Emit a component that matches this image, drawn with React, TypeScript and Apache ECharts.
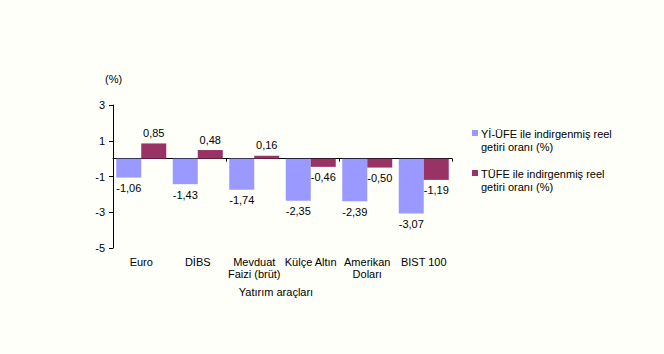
import React, { useEffect, useRef } from "react";
import * as echarts from "echarts";

const categories = ["Euro", "DİBS", "Mevduat\nFaizi (brüt)", "Külçe Altın", "Amerikan\nDoları", "BIST 100"];
const yiUfe = [-1.06, -1.43, -1.74, -2.35, -2.39, -3.07];
const tufe = [0.85, 0.48, 0.16, -0.46, -0.5, -1.19];
const seriesNames = ["Yİ-ÜFE ile indirgenmiş reel\ngetiri oranı (%)", "TÜFE ile indirgenmiş reel\ngetiri oranı (%)"];
const colors = ["#9999FF", "#993366"];

const FONT = "Liberation Sans, Arial, sans-serif";

const fmt = (v: number) => v.toFixed(2).replace(".", ",");

const toData = (arr: number[]) =>
  arr.map((v) => ({
    value: v,
    label: { position: v >= 0 ? "top" : "bottom" },
  }));

export default function App() {
  const ref = useRef<HTMLDivElement>(null);
  useEffect(() => {
    if (!ref.current) return;
    const chart = echarts.init(ref.current, undefined, { renderer: "svg" });
    const labelStyle = {
      show: true,
      color: "#000",
      fontFamily: FONT,
      fontSize: 11,
      distance: 5,
      formatter: (p: any) => fmt(p.value),
    };
    chart.setOption({
      animation: false,
      backgroundColor: "#FFFFF9",
      grid: { left: 113, right: 212, top: 105, bottom: 106, containLabel: false },
      xAxis: [
        {
          type: "category",
          data: categories,
          axisLine: { onZero: true, lineStyle: { color: "#000", width: 1 } },
          axisTick: { show: true, length: 3, lineStyle: { color: "#000" } },
          axisLabel: { show: false },
        },
        {
          type: "category",
          data: categories,
          position: "bottom",
          axisLine: { show: false, onZero: false },
          axisTick: { show: false },
          axisLabel: {
            show: true,
            color: "#000",
            fontFamily: FONT,
            fontSize: 11,
            margin: 8,
            lineHeight: 12,
            interval: 0,
          },
        },
      ],
      yAxis: {
        type: "value",
        min: -5,
        max: 3,
        interval: 2,
        axisLine: { show: true, lineStyle: { color: "#000" } },
        axisTick: { show: true, length: 4, lineStyle: { color: "#000" } },
        axisLabel: { color: "#000", fontFamily: FONT, fontSize: 11, margin: 8 },
        splitLine: { show: false },
      },
      series: [
        {
          name: seriesNames[0],
          type: "bar",
          xAxisIndex: 0,
          data: toData(yiUfe),
          barWidth: 25,
          barGap: "0%",
          itemStyle: { color: colors[0] },
          label: labelStyle,
        },
        {
          name: seriesNames[1],
          type: "bar",
          xAxisIndex: 0,
          data: toData(tufe),
          barWidth: 25,
          barGap: "0%",
          itemStyle: { color: colors[1] },
          label: labelStyle,
        },
      ],
      graphic: [
        {
          type: "text",
          left: 105,
          top: 73,
          style: { text: "(%)", fill: "#000", font: `11px ${FONT}` },
        },
        {
          type: "text",
          x: 276,
          y: 292,
          style: {
            text: "Yatırım araçları",
            fill: "#000",
            font: `11px ${FONT}`,
            align: "center",
            verticalAlign: "middle",
          },
        },
        { type: "rect", shape: { x: 472, y: 130, width: 6, height: 6 }, style: { fill: colors[0] } },
        {
          type: "text",
          x: 481,
          y: 127,
          style: { text: seriesNames[0], fill: "#000", font: `11px ${FONT}`, lineHeight: 13 },
        },
        { type: "rect", shape: { x: 472, y: 170, width: 6, height: 6 }, style: { fill: colors[1] } },
        {
          type: "text",
          x: 481,
          y: 167,
          style: { text: seriesNames[1], fill: "#000", font: `11px ${FONT}`, lineHeight: 13 },
        },
      ],
    });
    return () => chart.dispose();
  }, []);
  return <div ref={ref} style={{ position: "fixed", left: 0, top: 0, width: 664, height: 354 }} />;
}
